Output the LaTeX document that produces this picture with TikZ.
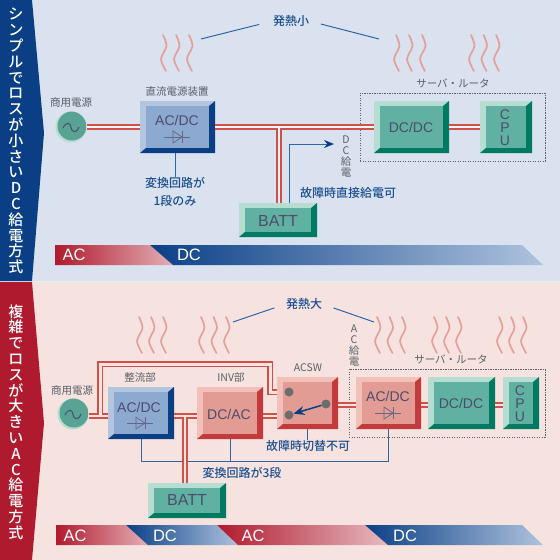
\documentclass[tikz,border=0pt]{standalone}
\usepackage{fontspec}
\setmainfont{Liberation Sans}
\newfontfamily\cjk{Noto Sans CJK JP}
\newfontfamily\cjkmed{Noto Sans CJK JP Medium}
\usetikzlibrary{arrows.meta}
\definecolor{bluepanel}{HTML}{D9E2EE}
\definecolor{pinkpanel}{HTML}{F6E3DF}
\definecolor{navyband}{HTML}{0A3F86}
\definecolor{redband}{HTML}{B01A2E}
\definecolor{wirered}{HTML}{D0504A}
\definecolor{leadblue}{HTML}{2F66A6}
\definecolor{labelblue}{HTML}{1C4F90}
\definecolor{labelgray}{HTML}{5A5F68}
\definecolor{boxink}{HTML}{4C4C6E}
\definecolor{bluelight}{HTML}{B4C6DE}
\definecolor{blueface}{HTML}{8CA9CF}
\definecolor{tealdark}{HTML}{007A62}
\definecolor{teallight}{HTML}{B6DDD2}
\definecolor{tealface}{HTML}{60B1A1}
\definecolor{redlight}{HTML}{F2C0B8}
\definecolor{redface}{HTML}{E29C94}
\definecolor{reddark}{HTML}{C23A3C}
\newcommand{\heatwave}[3]{%
  \foreach \dx in {0,1,2}{%
    \draw[heatline,shift={(#1+\dx*#3,#2)}] plot[smooth] coordinates {(-1,0) (2.5,11) (-3,24) (2,36)};}}
\newcommand{\diode}[1]{%
  \begin{scope}[shift={(#1)},diodeline]
    \draw (-13,0) -- (13,0);
    \draw (-4,-6) -- (-4,6) -- (5,0) -- cycle;
    \draw (5.5,-6) -- (5.5,6);
  \end{scope}}
\tikzset{
  bevel/.style n args = {3}{fill=#1, inner sep=0pt, outer sep=0pt, path picture={
      \fill[#2] ([xshift=6pt,yshift=5pt]path picture bounding box.south west) rectangle
                ([xshift=-6pt,yshift=-5pt]path picture bounding box.north east);
      \fill[#3] (path picture bounding box.north east) -- (path picture bounding box.south east)
                -- (path picture bounding box.south west)
                -- ([xshift=6pt,yshift=5pt]path picture bounding box.south west)
                -- ([xshift=-6pt,yshift=5pt]path picture bounding box.south east)
                -- ([xshift=-6pt,yshift=-5pt]path picture bounding box.north east) -- cycle;}},
  blueblock/.style = {bevel={bluelight}{blueface}{navyband}},
  tealblock/.style = {bevel={teallight}{tealface}{tealdark}},
  redblock/.style  = {bevel={redlight}{redface}{reddark}},
  boxlabel/.style  = {font=\fontsize{14}{13}\selectfont, text=boxink, align=center, inner sep=0pt},
  battlabel/.style = {font=\fontsize{16}{16}\selectfont, text=boxink, inner sep=0pt},
  barlabel/.style  = {font=\fontsize{16.5}{16.5}\selectfont, text=white, inner sep=0pt},
  graylabel/.style = {font=\cjk\fontsize{10.5}{11}\selectfont, text=labelgray, align=center, inner sep=0pt},
  bluelabel/.style = {font=\cjkmed\fontsize{12}{18}\selectfont, text=labelblue, align=center, inner sep=0pt},
  bandlabel/.style = {font=\cjkmed\fontsize{15}{15.8}\selectfont, text=white, align=center, inner sep=0pt},
  wire/.style      = {draw=wirered, line width=1.6pt, double=#1, double distance=1.9pt},
  bypasswire/.style= {draw=wirered, line width=1.8pt, double=pinkpanel, double distance=3pt},
  leadline/.style  = {draw=leadblue, line width=1pt},
  feedline/.style  = {draw=leadblue, line width=1pt, -{Stealth[length=10pt,width=8pt,color=navyband]}},
  heatline/.style  = {draw=wirered!55, line width=1.7pt, line cap=round},
  diodeline/.style = {draw=boxink!85, line width=.7pt},
  serverbox/.style = {draw=labelgray, line width=.9pt, dash pattern=on 1.4pt off 1.1pt, inner sep=0pt},
  srcnode/.style   = {circle, minimum size=31pt, inner sep=0pt, outer sep=0pt, fill=teallight, path picture={
      \fill[tealface!92!black] ([xshift=1pt,yshift=1pt]path picture bounding box.center) circle (14.5pt);}},
  contact/.style   = {circle, fill=gray!85!black, minimum size=9pt, inner sep=0pt},
  swarm/.style     = {draw=navyband, line width=1.5pt, -{Stealth[length=11pt,width=9pt]}}
}
\begin{document}
\begin{tikzpicture}[x=1pt,y=-1pt]
  \useasboundingbox (0,0) rectangle (560,560);
  \fill[bluepanel!60!white] (0,0) rectangle (560,560);
  \fill[bluepanel] (0,0) rectangle (560,281);
  \fill[pinkpanel] (0,282) rectangle (560,560);
  \fill[navyband] (0,0) -- (32,0) -- (44,133) -- (32,281) -- (0,281) -- cycle;
  \fill[redband] (0,282) -- (32,282) -- (44,423) -- (32,560) -- (0,560) -- cycle;
  \node[bandlabel] (titleA) at (16,141) {シ\\ン\\プ\\ル\\で\\ロ\\ス\\が\\小\\さ\\い\\D\\C\\給\\電\\方\\式};
  \node[bandlabel] (titleB) at (16,422) {複\\雑\\で\\ロ\\ス\\が\\大\\き\\い\\A\\C\\給\\電\\方\\式};

  % upper half
  \heatwave{164}{35}{13}
  \heatwave{397}{35}{13}
  \heatwave{472}{35}{12.5}
  \node[bluelabel] (hotA) at (291,21) {発熱小};
  \coordinate (waveA) at (201,39);
  \coordinate (waveB) at (379,39);
  \draw[leadline,shorten >=14pt] (waveA) -- (hotA.west);
  \draw[leadline,shorten <=12pt] (hotA.east) -- (waveB);
  \node[graylabel] (srcnameA) at (71,103) {商用電源};
  \node[graylabel] (psuname) at (177,92) {直流電源装置};
  \node[graylabel] (srvnameA) at (453,83) {サーバ・ルータ};
  \node[graylabel] (dcfeedname) at (346,156.5) {D\\C\\給\\電};
  \node[serverbox,minimum width=185pt,minimum height=68pt] (srvA) at (452.5,127) {};

  \node[srcnode] (srcA) at (71,127) {};
  \draw[boxink,line width=1pt] (63,128) .. controls (67,120) and (71,124) .. (71,127.5) .. controls (71,131) and (76,135) .. (79,127);
  \node[blueblock,minimum width=75pt,minimum height=52pt] (rectA) at (177.5,127) {};
  \node[tealblock,minimum width=75pt,minimum height=52pt] (dcdcA) at (411.5,127) {};
  \node[tealblock,minimum width=52pt,minimum height=52pt] (cpuA) at (506,127) {};
  \node[tealblock,minimum width=78pt,minimum height=34pt] (battA) at (278,220) {};
  \node[boxlabel] (rectAtext) at (177,120) {AC/DC};
  \diode{177,137}
  \node[boxlabel] (dcdcAtext) at (411,127) {DC/DC};
  \node[boxlabel] (cpuAtext) at (505,128) {C\\P\\U};
  \node[battlabel] (battAtext) at (278,221) {BATT};

  \coordinate (tapA) at (279,128);
  \draw[wire=bluepanel!40!white] (srcA.east) -- (rectA.west);
  \draw[wire=bluepanel!40!white] (rectA.east) -- (dcdcA.west);
  \draw[wire=bluepanel!40!white] (dcdcA.east) -- (cpuA.west);
  \draw[wire=bluepanel!40!white] (tapA) -- (tapA |- battA.north);
  \coordinate (feedend) at (334,144);
  \draw[feedline] ([xshift=11pt]battA.north) |- (feedend);
  \node[bluelabel] (oneconv) at (175,192) {変換回路が\\1段のみ};
  \draw[leadline] (oneconv.north) -- (oneconv.north |- rectA.south);
  \node[bluelabel] (directfeed) at (348,193) {故障時直接給電可};

  \shade[left color=redband,right color=redband!35!white] (55,245) -- (150,245) -- (173,265) -- (55,265) -- cycle;
  \shade[left color=navyband,middle color=leadblue,right color=blueface!70!white] (150,245) -- (522,245) -- (543,265) -- (173,265) -- cycle;
  \node[barlabel] (barAa) at (74,255) {AC};
  \node[barlabel] (barAb) at (189,255) {DC};

  % lower half
  \heatwave{140}{317}{12}
  \heatwave{202}{317}{12.5}
  \heatwave{378}{317}{12.5}
  \heatwave{435}{317}{12}
  \heatwave{500}{317}{12}
  \node[bluelabel] (hotB) at (304,304) {発熱大};
  \coordinate (waveC) at (233,322);
  \coordinate (waveD) at (374,322);
  \draw[leadline,shorten >=12pt] (waveC) -- (hotB.west);
  \draw[leadline,shorten <=12pt] (hotB.east) -- (waveD);
  \node[graylabel] (srcnameB) at (72,391) {商用電源};
  \node[graylabel] (rectname) at (140,378) {整流部};
  \node[graylabel] (invname) at (231,378) {INV部};
  \node[graylabel] (swname) at (308,368) {ACSW};
  \node[graylabel] (srvnameB) at (451,359) {サーバ・ルータ};
  \node[graylabel] (acfeedname) at (354,346) {A\\C\\給\\電};
  \node[serverbox,minimum width=196pt,minimum height=68pt] (srvB) at (447,403) {};

  \node[srcnode] (srcB) at (73,414) {};
  \draw[boxink,line width=1pt] (65,415) .. controls (69,407) and (73,411) .. (73,414.5) .. controls (73,418) and (78,422) .. (81,414);
  \node[blueblock,minimum width=66pt,minimum height=52pt] (rectB) at (141,413) {};
  \node[redblock,minimum width=66pt,minimum height=52pt] (invA) at (230,413) {};
  \node[redblock,minimum width=61pt,minimum height=52pt] (swA) at (307.5,403) {};
  \node[redblock,minimum width=65pt,minimum height=52pt] (rectD) at (388.5,403) {};
  \node[tealblock,minimum width=67pt,minimum height=52pt] (dcdcB) at (461.5,403) {};
  \node[tealblock,minimum width=36pt,minimum height=52pt] (cpuB) at (521,403) {};
  \node[tealblock,minimum width=78pt,minimum height=35pt] (battB) at (187,500.5) {};
  \node[boxlabel] (rectBtext) at (139,407) {AC/DC};
  \diode{140,423}
  \node[boxlabel] (invAtext) at (229,414) {DC/AC};
  \node[boxlabel] (rectDtext) at (388,396) {AC/DC};
  \diode{388,413}
  \node[boxlabel] (dcdcBtext) at (461,403) {DC/DC};
  \node[boxlabel] (cpuBtext) at (520,403.5) {C\\P\\U};
  \node[battlabel] (battBtext) at (187,500) {BATT};
  \node[contact] (swT) at (289,392) {};
  \node[contact] (swR) at (326,404) {};
  \node[contact] (swB) at (289,415) {};
  \draw[swarm] (swR) -- (swB);

  \coordinate (acrun) at (0,416);
  \coordinate (busrun) at (0,461);
  \coordinate (bypass) at (100,415);
  \coordinate (bypasstop) at (270,364);
  \coordinate (tapB) at (185,417);
  \node[bluelabel] (threeconv) at (242,473) {変換回路が3段};
  \node[bluelabel] (swfail) at (308,446) {故障時切替不可};
  \draw[leadline] (rectB.south) |- (busrun -| rectD.south) -- (rectD.south);
  \draw[leadline] (invA.south) -- (invA.south |- busrun);
  \draw[leadline] (swA.south) -- (swA.south |- swfail.north);
  \draw[wire=pinkpanel] (srcB.east |- acrun) -- (rectB.west |- acrun);
  \draw[wire=pinkpanel] (rectB.east |- acrun) -- (invA.west |- acrun);
  \draw[wire=pinkpanel] (invA.east |- acrun) -- (swA.west |- acrun);
  \draw[wire=pinkpanel] ([yshift=-2pt]swA.east) -- ([yshift=-2pt]rectD.west);
  \draw[wire=pinkpanel] ([yshift=-2pt]rectD.east) -- ([yshift=-2pt]dcdcB.west);
  \draw[wire=pinkpanel] ([yshift=-2pt]dcdcB.east) -- ([yshift=-2pt]cpuB.west);
  \draw[wire=pinkpanel] (tapB) -- (tapB |- battB.north);
  \draw[bypasswire] (bypass) |- (bypasstop) |- (swA.west |- swT);

  \shade[left color=redband,right color=redband!35!white] (56,525) -- (126,525) -- (148,545) -- (56,545) -- cycle;
  \shade[left color=navyband,right color=blueface!70!white] (126,525) -- (217,525) -- (238,545) -- (148,545) -- cycle;
  \shade[left color=redband,right color=redband!30!white] (217,525) -- (365,525) -- (388,545) -- (238,545) -- cycle;
  \shade[left color=navyband,middle color=leadblue!80!white,right color=blueface!70!white] (365,525) -- (522,525) -- (543,545) -- (388,545) -- cycle;
  \node[barlabel] (barBa) at (75,536) {AC};
  \node[barlabel] (barBb) at (165,536) {DC};
  \node[barlabel] (barBc) at (253,536) {AC};
  \node[barlabel] (barBd) at (405,536) {DC};
\end{tikzpicture}
\end{document}
